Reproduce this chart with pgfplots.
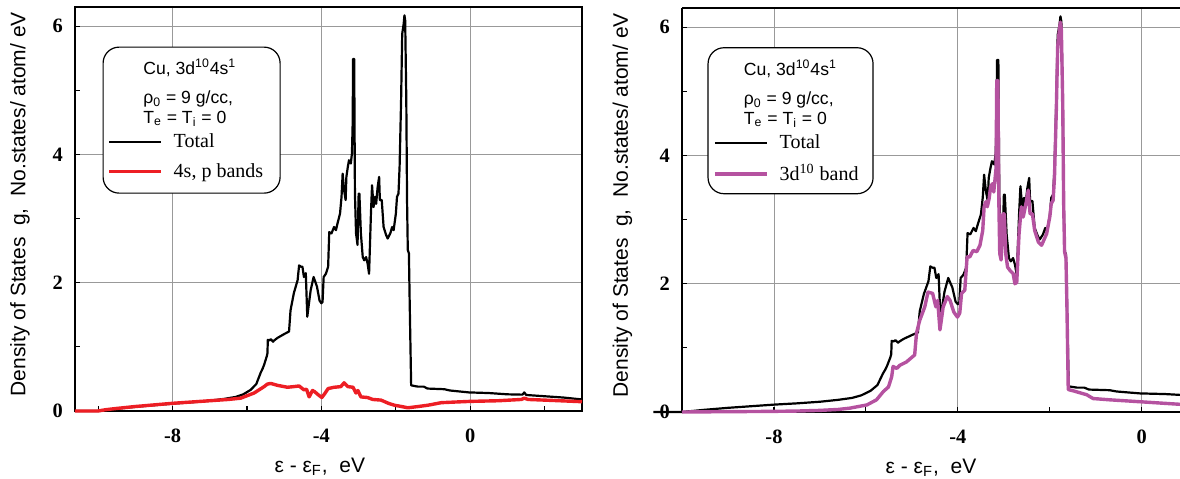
\documentclass[border=0pt]{standalone}
\usepackage{fontspec}
\setmainfont{Liberation Serif}
\setsansfont{Liberation Sans}
\usepackage{pgfplots}
\pgfplotsset{compat=1.18}
\definecolor{myred}{RGB}{237,30,36}
\definecolor{mypurple}{RGB}{181,82,160}

\pgfplotstableread{
x y
-10.62 0
-10.0 0.0
-9.5 0.035
-9.0 0.065
-8.5 0.09
-8.0 0.115
-7.5 0.135
-7.0 0.16
-6.6 0.19
-6.3 0.22
-6.1 0.26
-5.9 0.33
-5.75 0.42
-5.63 0.60
-5.58 0.66
-5.54 0.72
-5.47 0.85
-5.45 0.90
-5.44 1.11
-5.40 1.10
-5.36 1.12
-5.30 1.08
-5.27 1.10
-5.18 1.14
-5.0 1.20
-4.87 1.24
-4.83 1.57
-4.74 1.84
-4.64 2.04
-4.60 2.27
-4.55 2.25
-4.51 2.25
-4.47 2.09
-4.42 2.15
-4.38 1.47
-4.33 1.70
-4.29 1.88
-4.21 2.09
-4.12 1.94
-4.05 1.72
-4.00 1.68
-3.97 1.70
-3.94 2.09
-3.88 2.14
-3.82 2.25
-3.79 2.79
-3.73 2.77
-3.66 2.87
-3.61 2.82
-3.57 2.92
-3.50 3.08
-3.46 3.34
-3.43 3.70
-3.39 3.44
-3.35 3.29
-3.33 3.65
-3.29 3.81
-3.26 3.91
-3.21 3.86
-3.18 4.02
-3.16 4.5
-3.15 5.49
-3.12 5.49
-3.10 3.39
-3.07 2.77
-3.03 2.59
-3.00 3.39
-2.98 3.39
-2.94 2.77
-2.89 2.40
-2.85 2.35
-2.80 2.40
-2.76 2.30
-2.72 2.14
-2.67 3.08
-2.64 3.52
-2.60 3.18
-2.56 3.34
-2.53 3.23
-2.49 3.49
-2.45 3.65
-2.43 3.29
-2.38 3.29
-2.33 2.87
-2.26 2.74
-2.22 2.69
-2.15 2.77
-2.10 2.87
-2.06 2.82
-2.00 3.08
-1.97 3.34
-1.93 3.39
-1.90 3.81
-1.86 4.84
-1.83 5.88
-1.79 6.04
-1.77 6.17
-1.75 6.09
-1.72 4.84
-1.70 3.29
-1.68 2.51
-1.65 2.46
-1.63 1.73
-1.59 0.40
-1.41 0.38
-1.25 0.38
-1.15 0.35
-0.70 0.34
-0.55 0.32
-0.04 0.29
0.5 0.28
1.0 0.26
1.40 0.255
1.45 0.29
1.50 0.25
2.0 0.23
2.5 0.21
3.0 0.18
}\total

\pgfplotstableread{
x y
-10.62 0
-10.0 0
-9.8 0.02
-9.5 0.04
-9.0 0.07
-8.5 0.095
-8.0 0.12
-7.5 0.14
-7.0 0.16
-6.5 0.18
-6.17 0.20
-5.81 0.28
-5.54 0.38
-5.45 0.42
-5.36 0.43
-5.18 0.40
-4.91 0.37
-4.75 0.38
-4.60 0.39
-4.47 0.33
-4.40 0.34
-4.33 0.22
-4.24 0.32
-4.18 0.30
-4.10 0.26
-3.99 0.21
-3.90 0.28
-3.82 0.35
-3.66 0.37
-3.48 0.38
-3.39 0.44
-3.29 0.38
-3.15 0.37
-3.07 0.28
-3.02 0.32
-2.94 0.22
-2.76 0.21
-2.62 0.18
-2.40 0.17
-2.20 0.12
-2.04 0.09
-1.85 0.07
-1.68 0.05
-1.40 0.07
-1.14 0.09
-0.78 0.13
-0.4 0.14
0.0 0.15
0.75 0.16
1.37 0.18
1.45 0.20
1.55 0.18
2.2 0.165
3.0 0.145
}\spband

\pgfplotstableread{
x y
-10.0 0
-9.0 0.005
-8.0 0.01
-7.5 0.015
-7.0 0.025
-6.6 0.04
-6.35 0.06
-5.98 0.11
-5.77 0.19
-5.62 0.32
-5.51 0.39
-5.44 0.55
-5.41 0.71
-5.33 0.68
-5.26 0.73
-5.12 0.78
-4.94 0.89
-4.90 1.23
-4.83 1.43
-4.72 1.64
-4.65 1.87
-4.55 1.85
-4.48 1.64
-4.44 1.74
-4.39 1.28
-4.32 1.64
-4.23 1.80
-4.17 1.74
-4.09 1.56
-4.01 1.48
-3.96 1.54
-3.92 1.85
-3.85 1.90
-3.80 2.42
-3.74 2.42
-3.67 2.52
-3.59 2.50
-3.52 2.60
-3.46 2.83
-3.43 3.20
-3.39 3.28
-3.36 3.20
-3.32 3.33
-3.29 3.51
-3.25 3.56
-3.22 3.43
-3.17 3.8
-3.155 5.17
-3.13 5.17
-3.11 3.30
-3.09 2.47
-3.06 2.37
-3.02 3.09
-2.99 3.09
-2.96 2.47
-2.92 2.26
-2.87 2.21
-2.80 2.16
-2.76 2.00
-2.72 2.02
-2.67 2.78
-2.62 3.20
-2.58 3.04
-2.52 3.25
-2.47 3.46
-2.43 3.09
-2.38 3.09
-2.33 2.83
-2.25 2.65
-2.18 2.60
-2.07 2.78
-2.00 3.05
-1.97 3.25
-1.93 3.30
-1.90 3.65
-1.86 4.7
-1.83 5.7
-1.79 5.98
-1.77 6.08
-1.75 5.95
-1.72 4.8
-1.70 3.25
-1.68 2.50
-1.65 2.40
-1.63 1.70
-1.60 0.35
-1.49 0.33
-1.30 0.29
-1.20 0.27
-1.06 0.21
-0.70 0.19
-0.04 0.16
0.5 0.135
0.83 0.12
}\dband

\pgfplotsset{
  dosstyle/.style={
    scale only axis, height=202pt, ymin=0, ymax=6.3,
    ytick={0,2,4,6}, yticklabels={0,2,4,6},
    minor ytick={1,3,5},
    xtick={-8,-4,0}, xticklabels={-8,-4,0},
    ymajorgrids, xmajorgrids,
    major grid style={draw=black!40, line width=0.45pt},
    tick pos=left, tick align=inside,
    major tick length=2.5pt, minor tick length=2.5pt,
    tick style={black, line width=0.55pt},
    axis line style={line width=0.7pt},
    ticklabel style={font=\fontsize{10.2}{12}\selectfont\bfseries},
    yticklabel style={xshift=-2.6pt},
    xticklabel style={yshift=-5.5pt},
    xlabel={ε - ε\textsubscript{F},\ \ eV},
    ylabel={Density of States\ \ g,\ \ No.states/ atom/ eV},
    legend style={draw=none, fill=none, inner sep=0pt, row sep=4.5pt,
      font=\fontsize{10}{12}\selectfont, cells={anchor=west},
      nodes={inner sep=1pt}},
    legend image code/.code={\draw[##1] (0pt,0pt) -- (26pt,0pt); \path (30.5pt,0pt);},
    clip=false,
  }
}

\begin{document}
\begin{tikzpicture}
\path[use as bounding box] (0,0) rectangle (590pt,239pt);

% ---------------- left panel ----------------
\begin{axis}[dosstyle,
  at={(37.5pt,33.5pt)}, anchor=south west,
  width=253.5pt, xmin=-10.62, xmax=3.0,
  minor xtick={-10,-6,-2,2},
  xlabel style={at={(axis description cs:0.483,-0.151)}, anchor=base,
     font=\fontsize{10.5}{12}\selectfont\sffamily},
  every axis y label/.style={at={(axis description cs:-0.1085,0.512)}, rotate=90,
     anchor=center, font=\fontsize{10.5}{12}\selectfont\sffamily},
  legend style={at={(rel axis cs:0.063,0.693)}, anchor=north west},
]
\node[draw=black, line width=0.6pt, fill=white, rounded corners=8pt,
  minimum width=88.5pt, minimum height=73pt, inner sep=0pt]
  at (rel axis cs:0.230,0.720) {};
\addplot[black, line width=1.1pt, line join=round] table[x=x,y=y] {\total};
\addlegendentry{Total}
\addplot[myred, line width=1.7pt, line join=round] table[x=x,y=y] {\spband};
\addlegendentry{4s, p bands}
\node[anchor=base west, inner sep=0pt, font=\fontsize{8.8}{10}\selectfont\sffamily]
  at (rel axis cs:0.134,0.832) {Cu, 3d\textsuperscript{10}4s\textsuperscript{1}};
\node[anchor=base west, inner sep=0pt, font=\fontsize{8.8}{10}\selectfont\sffamily]
  at (rel axis cs:0.134,0.760) {ρ\textsubscript{0} = 9 g/cc,};
\node[anchor=base west, inner sep=0pt, font=\fontsize{8.8}{10}\selectfont\sffamily]
  at (rel axis cs:0.134,0.712) {T\textsubscript{e} = T\textsubscript{i} = 0};
\end{axis}

% ---------------- right panel ----------------
\begin{axis}[dosstyle,
  at={(341pt,33pt)}, anchor=south west,
  width=249pt, xmin=-10.0, xmax=0.83,
  axis y line*=left,
  minor xtick={-6,-2},
  xlabel style={at={(axis description cs:0.5,-0.151)}, anchor=base,
     font=\fontsize{10.5}{12}\selectfont\sffamily},
  every axis y label/.style={at={(axis description cs:-0.1195,0.512)}, rotate=90,
     anchor=center, font=\fontsize{10.5}{12}\selectfont\sffamily},
  legend style={at={(rel axis cs:0.062,0.693)}, anchor=north west},
]
\node[draw=black, line width=0.6pt, fill=white, rounded corners=8pt,
  minimum width=82.5pt, minimum height=73pt, inner sep=0pt]
  at (rel axis cs:0.218,0.721) {};
\addplot[black, line width=1.1pt, line join=round] table[x=x,y=y] {\total};
\addlegendentry{Total}
\addplot[mypurple, line width=1.7pt, line join=round] table[x=x,y=y] {\dband};
\addlegendentry{3d\textsuperscript{10} band}
\node[anchor=base west, inner sep=0pt, font=\fontsize{8.8}{10}\selectfont\sffamily]
  at (rel axis cs:0.1235,0.832) {Cu, 3d\textsuperscript{10}4s\textsuperscript{1}};
\node[anchor=base west, inner sep=0pt, font=\fontsize{8.8}{10}\selectfont\sffamily]
  at (rel axis cs:0.1235,0.760) {ρ\textsubscript{0} = 9 g/cc,};
\node[anchor=base west, inner sep=0pt, font=\fontsize{8.8}{10}\selectfont\sffamily]
  at (rel axis cs:0.1235,0.712) {T\textsubscript{e} = T\textsubscript{i} = 0};
\end{axis}
\end{tikzpicture}
\end{document}
